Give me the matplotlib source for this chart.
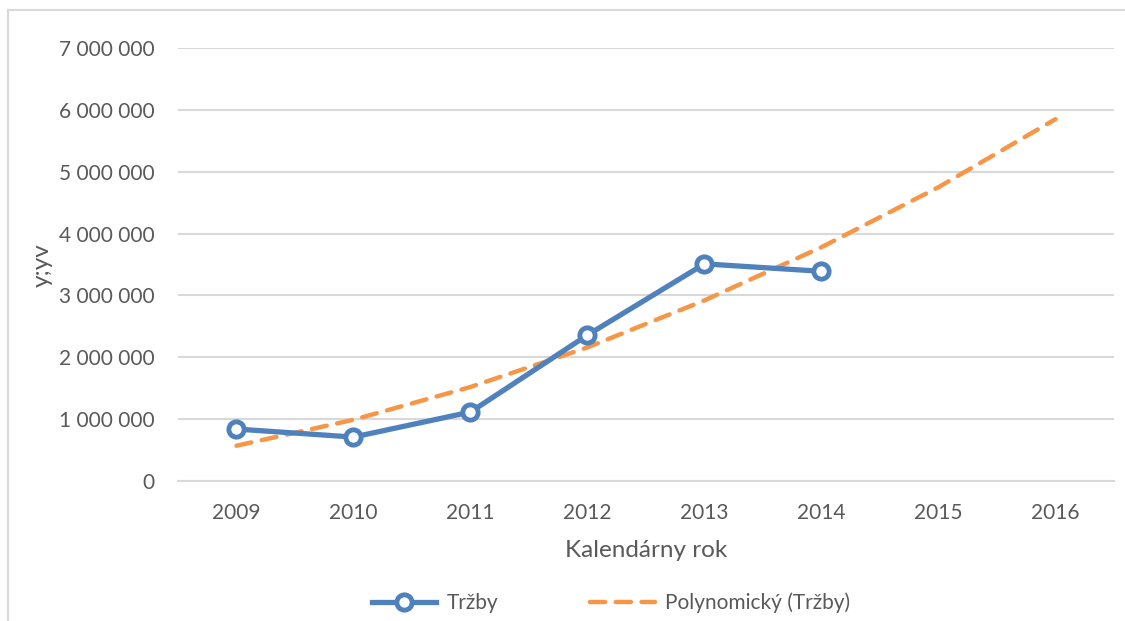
import matplotlib
matplotlib.use("Agg")
import matplotlib.pyplot as plt
from matplotlib.ticker import FuncFormatter, MultipleLocator
from matplotlib.lines import Line2D

years = ["2009", "2010", "2011", "2012", "2013", "2014", "2015", "2016"]
trzby = [840000, 710000, 1115000, 2360000, 3510000, 3390000]
trend = [570000, 990000, 1520000, 2160000, 2920000, 3780000, 4750000, 5850000]

blue = "#4F81BD"
orange = "#F79646"
grid_c = "#D9D9D9"
text_c = "#595959"
font = "Lato"

fig = plt.figure(figsize=(11.25, 6.21), dpi=100)
fig.patch.set_facecolor("white")

# chart border (partially cropped)
fig.add_artist(Line2D([8/1125, 8/1125], [0, 1 - 10/621], transform=fig.transFigure, color=grid_c, lw=1.5))
fig.add_artist(Line2D([8/1125, 1], [1 - 10/621, 1 - 10/621], transform=fig.transFigure, color=grid_c, lw=1.5))

ax = fig.add_axes([178/1125, 1 - 481/621, (1114 - 178)/1125, (481 - 48)/621])
x_all = list(range(len(years)))
x_data = x_all[:len(trzby)]

ax.plot(x_all, trend, color=orange, lw=3.2, dashes=(3.4, 2.4), dash_capstyle="round",
        solid_capstyle="round", zorder=2, label="Polynomický (Tržby)")
ax.plot(x_data, trzby, color=blue, lw=3.8, marker="o", markersize=11, markerfacecolor="white",
        markeredgecolor=blue, markeredgewidth=3.5, zorder=3, label="Tržby")

ax.set_xlim(-0.5, len(years) - 0.5)
ax.set_ylim(0, 7000000)
ax.yaxis.set_major_locator(MultipleLocator(1000000))
ax.yaxis.set_major_formatter(FuncFormatter(lambda v, p: f"{int(v):,}".replace(",", " ")))
ax.set_xticks(x_all)
ax.set_xticklabels(years)
ax.grid(axis="y", color=grid_c, lw=1.5)
ax.set_axisbelow(True)
for s in ["top", "right", "left"]:
    ax.spines[s].set_visible(False)
ax.spines["bottom"].set_color(grid_c)
ax.spines["bottom"].set_linewidth(1.5)
ax.tick_params(axis="both", length=0, labelsize=15, labelcolor=text_c)
ax.tick_params(axis="y", pad=17)
ax.tick_params(axis="x", pad=16)
for lbl in ax.get_xticklabels() + ax.get_yticklabels():
    lbl.set_fontfamily(font)

ax.set_xlabel("Kalendárny rok", fontsize=17.5, color=text_c, fontfamily=font, labelpad=12)
fig.text(42/1125, 1 - 265/621, "y;yv", rotation=90, fontsize=17.5, color=text_c,
         fontfamily=font, ha="center", va="center")

handles = [
    Line2D([], [], color=blue, lw=3.8, marker="o", markersize=11, markerfacecolor="white",
           markeredgecolor=blue, markeredgewidth=3.5),
    Line2D([], [], color=orange, lw=3.2, dashes=(3.4, 2.4), dash_capstyle="round"),
]
leg = fig.legend(handles, ["Tržby", "Polynomický (Tržby)"], loc="center",
                 bbox_to_anchor=(611/1125, 1 - 603/621), ncol=2, frameon=False,
                 handlelength=3.1, handletextpad=0.5, columnspacing=4.4,
                 prop={"family": font, "size": 15})
for t in leg.get_texts():
    t.set_color(text_c)

fig.savefig("out.png", dpi=100, facecolor="white")
